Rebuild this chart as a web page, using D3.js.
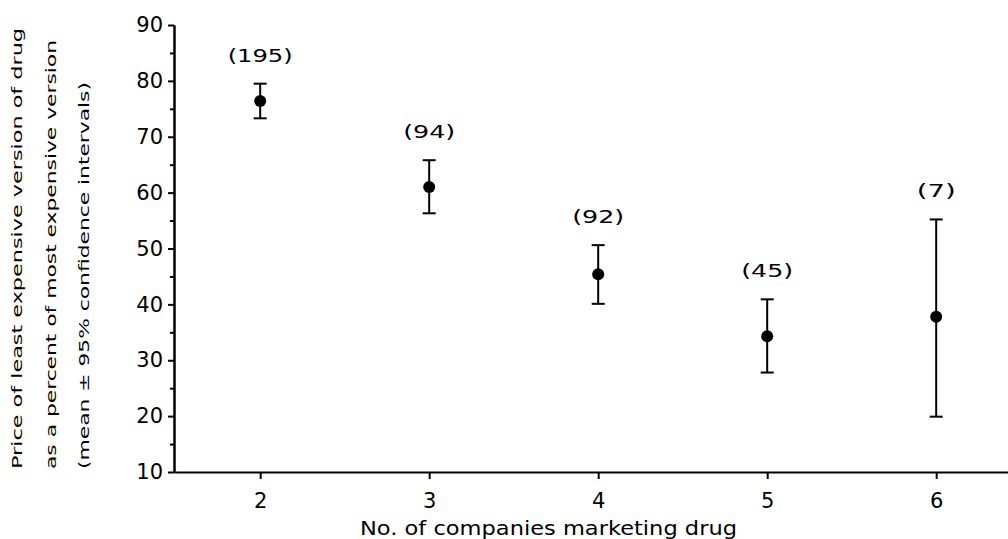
<!DOCTYPE html>
<html><head><meta charset="utf-8">
<script src="https://cdn.jsdelivr.net/npm/d3@7"></script>
<style>
body{margin:0;background:#fff}
text{font-family:"DejaVu Sans",sans-serif;fill:#000}
</style>
</head><body>
<svg id="c" width="1008" height="539"></svg>
<script>
// ---- data ----
const companies = [2, 3, 4, 5, 6];
const meanPct   = [76.4, 61.0, 45.4, 34.3, 37.8];
const lowerCI   = [73.3, 56.3, 40.1, 27.8, 19.9];
const upperCI   = [79.5, 65.8, 50.6, 40.9, 55.2];
const nDrugs    = [195, 94, 92, 45, 7];
const yTicks      = [10, 20, 30, 40, 50, 60, 70, 80, 90];
const yMinorTicks = [15, 25, 35, 45, 55, 65, 75, 85];
const xTicks      = [2, 3, 4, 5, 6];
const yTitleLines = ["Price of least expensive version of drug",
                     "as a percent of most expensive version",
                     "(mean \u00b1 95% confidence intervals)"];
const xTitle = "No. of companies marketing drug";

// ---- layout ----
const svg = d3.select("#c");
const x = d3.scaleLinear().domain([1.49, 6.49]).range([174, 1019]);
const y = d3.scaleLinear().domain([10, 90]).range([472, 25]);

const rows = companies.map((c, i) => ({c, m: meanPct[i], lo: lowerCI[i], hi: upperCI[i], n: nDrugs[i]}));

function styleAxis(g, fs) {
  g.select(".domain").attr("stroke", "#000").attr("stroke-width", 2);
  g.selectAll(".tick line").attr("stroke", "#000").attr("stroke-width", 2);
  g.selectAll(".tick text").attr("font-size", fs).attr("font-family", '"DejaVu Sans",sans-serif').attr("fill", "#000");
}

// y axis
const gy = svg.append("g").attr("transform", "translate(174,0)")
  .call(d3.axisLeft(y).tickValues(yTicks).tickSize(6).tickSizeOuter(0).tickPadding(5).tickFormat(d3.format("d")));
styleAxis(gy, 21);
const gyMinor = svg.append("g").attr("transform", "translate(174,0)")
  .call(d3.axisLeft(y).tickValues(yMinorTicks).tickSize(4).tickSizeOuter(0).tickFormat(""));
styleAxis(gyMinor, 21);

// x axis
const gx = svg.append("g").attr("transform", "translate(0,472)")
  .call(d3.axisBottom(x).tickValues(xTicks).tickSize(7).tickSizeOuter(0).tickPadding(14).tickFormat(d3.format("d")));
styleAxis(gx, 21);

// error bars
const capHalf = 6.5;
const eb = svg.append("g").attr("stroke", "#000").attr("stroke-width", 2);
eb.selectAll("line.v").data(rows).join("line").attr("class", "v")
  .attr("x1", d => x(d.c)).attr("x2", d => x(d.c))
  .attr("y1", d => y(d.lo)).attr("y2", d => y(d.hi));
eb.selectAll("line.t").data(rows).join("line").attr("class", "t")
  .attr("x1", d => x(d.c) - capHalf).attr("x2", d => x(d.c) + capHalf)
  .attr("y1", d => y(d.hi)).attr("y2", d => y(d.hi));
eb.selectAll("line.b").data(rows).join("line").attr("class", "b")
  .attr("x1", d => x(d.c) - capHalf).attr("x2", d => x(d.c) + capHalf)
  .attr("y1", d => y(d.lo)).attr("y2", d => y(d.lo));

// means
svg.append("g").selectAll("circle").data(rows).join("circle")
  .attr("cx", d => x(d.c)).attr("cy", d => y(d.m)).attr("r", 6).attr("fill", "#000");

// n labels
svg.append("g").selectAll("text").data(rows).join("text")
  .attr("x", d => x(d.c)).attr("y", d => y(d.hi) - 28)
  .attr("dy", "0.35em")
  .attr("text-anchor", "middle").attr("font-size", 17)
  .attr("textLength", d => 13 * (String(d.n).length + 2)).attr("lengthAdjust", "spacingAndGlyphs")
  .text(d => "(" + d.n + ")");

// y title
const yLineLens = [441, 429, 387];
svg.append("g").selectAll("text").data(yTitleLines).join("text")
  .attr("transform", (d, i) => `translate(${22 + i * 33.5},469) rotate(-90)`)
  .attr("text-anchor", "start").attr("font-size", 14)
  .attr("textLength", (d, i) => yLineLens[i]).attr("lengthAdjust", "spacingAndGlyphs")
  .text(d => d);

// x title
svg.append("text").attr("x", 360).attr("y", 535)
  .attr("font-size", 20).attr("textLength", 377).attr("lengthAdjust", "spacingAndGlyphs")
  .text(xTitle);
</script>
</body></html>
